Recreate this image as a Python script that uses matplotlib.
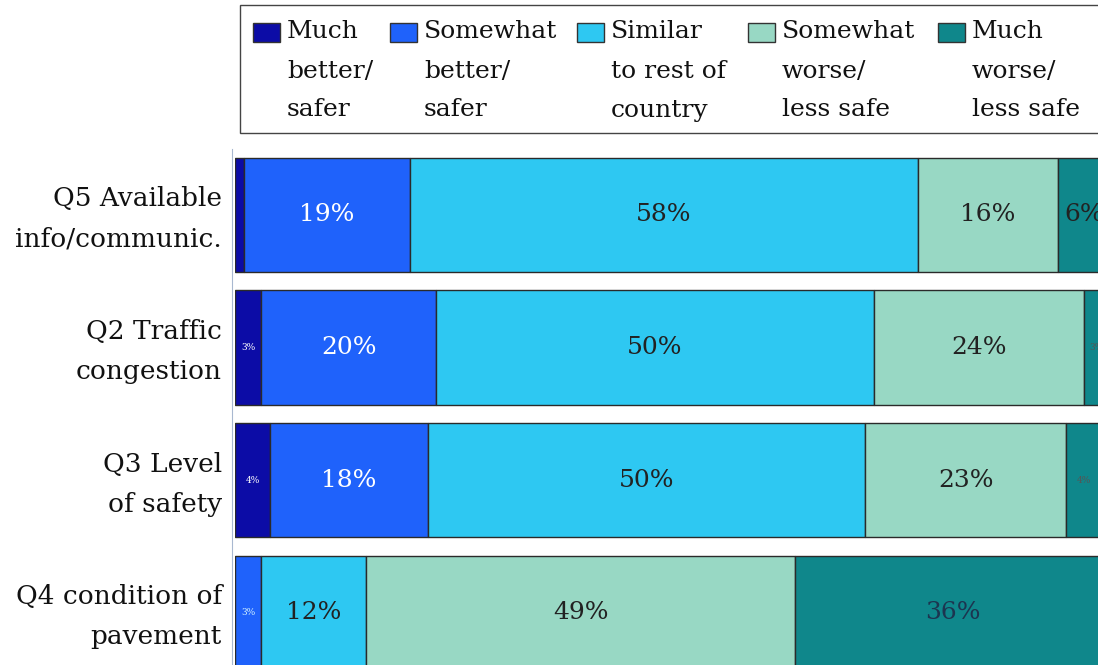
import numpy as np
import matplotlib.pyplot as plt
from matplotlib.patches import Rectangle

plt.rcParams['font.family'] = ['DejaVu Serif']

questions = ['Q5 Available\ninfo/communic.', 'Q2 Traffic\ncongestion',
             'Q3 Level\nof safety', 'Q4 condition of\npavement']
much_better = [1, 3, 4, 0]
somewhat_better = [19, 20, 18, 3]
similar = [58, 50, 50, 12]
somewhat_worse = [16, 24, 23, 49]
much_worse = [6, 3, 4, 36]

series = [much_better, somewhat_better, similar, somewhat_worse, much_worse]
names = ['Much\nbetter/\nsafer', 'Somewhat\nbetter/\nsafer', 'Similar\nto rest of\ncountry',
         'Somewhat\nworse/\nless safe', 'Much\nworse/\nless safe']
colors = ['#0c0ca6', '#1f62fb', '#2ec8f2', '#98d8c4', '#0f878b']
# label colour per series, small labels for thin segments
txt_col = ['white', 'white', '#222222', '#222222', '#222222']

W, H = 1098, 665
fig = plt.figure(figsize=(W / 100, H / 100), dpi=100)

ax = fig.add_axes([235 / W, 1 - 679 / H, 875 / W, (679 - 148.6) / H])
y = np.arange(len(questions))
left = np.zeros(len(questions))
for vals, c, tc in zip(series, colors, txt_col):
    vals = np.array(vals, dtype=float)
    ax.barh(y, vals, left=left, height=0.86, color=c, edgecolor='#2a2a2a', linewidth=1.0)
    for yi, v, l in zip(y, vals, left):
        if v >= 6:
            col = tc
            if c == colors[4] and v > 20:
                col = '#1c3550'
            ax.text(l + v / 2, yi, f'{int(v)}%', ha='center', va='center',
                    fontsize=18, color=col)
        elif v >= 2:
            col = 'white' if c in colors[:2] else '#555555'
            if c == colors[1]:
                col = '#cfefff'
            ax.text(l + v / 2, yi, f'{int(v)}%', ha='center', va='center',
                    fontsize=6.5, color=col)
    left += vals

ax.set_xlim(0, 100)
ax.set_ylim(3.5, -0.5)
ax.set_yticks([])
ax.set_xticks([])
# category names, two lines each, right-aligned against the axis
for yi, q in zip(y, questions):
    ax.text(-0.015, yi + 0.03, q, transform=ax.get_yaxis_transform(), ha='right', va='center',
            fontsize=19, linespacing=1.75, color='#111111', multialignment='right')
for s in ['top', 'right', 'bottom']:
    ax.spines[s].set_visible(False)
ax.spines['left'].set_color('#a8b8d0')
ax.spines['left'].set_position(('outward', 2))

# legend box with manually placed entries
fig.patches.append(Rectangle((240 / W, 1 - 133 / H), 880 / W, 128 / H, transform=fig.transFigure,
                             facecolor='white', edgecolor='#444444', linewidth=1.0))
leg_x = [253, 390, 577, 748, 938]
for x0, c, name in zip(leg_x, colors, names):
    fig.patches.append(Rectangle((x0 / W, 1 - 42 / H), 27 / W, 19 / H, transform=fig.transFigure,
                                 facecolor=c, edgecolor='#333333', linewidth=1.0))
    for i, line in enumerate(name.split('\n')):
        fig.text((x0 + 34) / W, 1 - (32 + 39 * i) / H, line, ha='left', va='center',
                 fontsize=18, color='#111111')

fig.savefig('out.png', dpi=100)
